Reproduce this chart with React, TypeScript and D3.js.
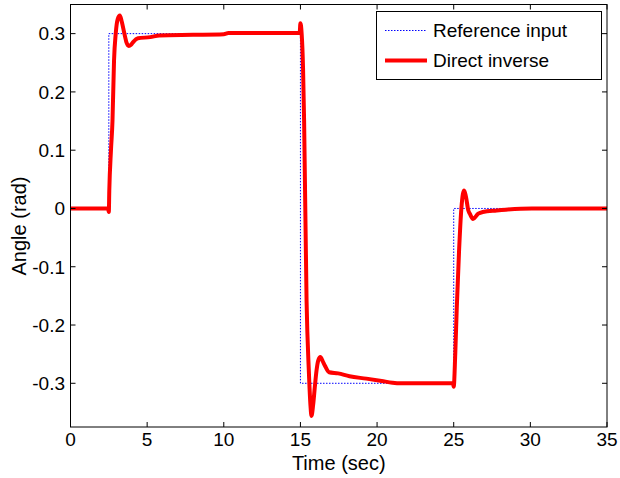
import * as d3 from "d3";

// reference input: step changes (value holds until next time)
const refTime = [0, 2.5, 15, 25, 35];
const refValue = [0, 0.3, -0.3, 0, 0];

// direct inverse response
const respTime = [
  0, 2.45, 2.5, 2.53, 2.64, 2.74, 2.84, 2.95, 3.08, 3.22, 3.35, 3.5, 3.65, 3.8, 3.95, 4.1,
  4.4, 5.2, 5.8, 8, 10, 10.3, 14.95, 15.0, 15.08, 15.17, 15.24, 15.4, 15.55, 15.66, 15.72,
  15.83, 15.94, 16.05, 16.16, 16.3, 16.45, 16.6, 16.87, 17.46, 18.2, 19.3, 20.3, 21, 21.5,
  24.95, 25.0, 25.1, 25.2, 25.35, 25.5, 25.6, 25.68, 25.8, 25.95, 26.05, 26.26, 26.6, 26.9,
  27.8, 28.4, 30.1, 35,
];
const respValue = [
  0, 0, -0.006, 0.03, 0.1, 0.151, 0.254, 0.3, 0.325, 0.331, 0.32, 0.302, 0.285, 0.279, 0.281,
  0.286, 0.292, 0.294, 0.297, 0.298, 0.299, 0.301, 0.301, 0.318, 0.3, 0.242, 0.151, -0.158,
  -0.28, -0.34, -0.356, -0.337, -0.306, -0.278, -0.261, -0.255, -0.262, -0.27, -0.281, -0.283,
  -0.288, -0.292, -0.296, -0.299, -0.3, -0.3, -0.306, -0.25, -0.17, -0.072, 0.0, 0.025, 0.031,
  0.02, -0.003, -0.009, -0.018, -0.009, -0.006, -0.0034, -0.002, 0, 0,
];

const xTicks = [0, 5, 10, 15, 20, 25, 30, 35];
const yTicks = [-0.3, -0.2, -0.1, 0, 0.1, 0.2, 0.3];
const legendLabels = ["Reference input", "Direct inverse"];

const W = 620;
const H = 478;
const left = 70.5;
const right = 607;
const top = 4.5;
const bottom = 427;
const font = "'Liberation Sans', Arial, sans-serif";

export default function App() {
  const x = d3.scaleLinear().domain([0, 35]).range([left, right]);
  const y = d3.scaleLinear().domain([-0.375, 0.35]).range([bottom, top]);

  const refPts: [number, number][] = refTime.map((t, i) => [t, refValue[i]]);
  const respPts: [number, number][] = respTime.map((t, i) => [t, respValue[i]]);

  const refLine = d3
    .line<[number, number]>()
    .x((d) => x(d[0]))
    .y((d) => y(d[1]))
    .curve(d3.curveStepAfter);
  const respLine = d3
    .line<[number, number]>()
    .x((d) => x(d[0]))
    .y((d) => y(d[1]))
    .curve(d3.curveMonotoneX);

  const tick = 5;
  // MATLAB-style labels with a plain hyphen for negatives
  const fmt = (v: number) => (v === 0 ? "0" : d3.format(".1f")(v).replace("\u2212", "-"));

  return (
    <div style={{ position: "absolute", left: 0, top: 0 }}>
      <svg width={W} height={H} style={{ display: "block", background: "#fff" }}>
        <rect x={0} y={0} width={W} height={H} fill="#fff" />
        <defs>
          <clipPath id="plot">
            <rect x={left} y={top} width={right - left} height={bottom - top} />
          </clipPath>
        </defs>

        <g clipPath="url(#plot)">
          <path
            d={refLine(refPts) || ""}
            fill="none"
            stroke="#0000ff"
            strokeWidth={1}
            strokeDasharray="1.5,1.5"
          />
          <path
            d={respLine(respPts) || ""}
            fill="none"
            stroke="#ff0000"
            strokeWidth={4}
            strokeLinejoin="round"
            strokeLinecap="round"
          />
        </g>

        {/* box */}
        <rect
          x={left}
          y={top}
          width={right - left}
          height={bottom - top}
          fill="none"
          stroke="#000"
          strokeWidth={1}
        />

        {xTicks.map((t) => (
          <g key={"x" + t}>
            <line x1={x(t)} x2={x(t)} y1={bottom} y2={bottom - tick} stroke="#000" />
            <line x1={x(t)} x2={x(t)} y1={top} y2={top + tick} stroke="#000" />
            <text
              x={x(t)}
              y={445.5}
              textAnchor="middle"
              fontFamily={font}
              fontSize={19}
              fill="#000"
            >
              {t}
            </text>
          </g>
        ))}

        {yTicks.map((v) => (
          <g key={"y" + v}>
            <line x1={left} x2={left + tick} y1={y(v)} y2={y(v)} stroke="#000" />
            <line x1={right} x2={right - tick} y1={y(v)} y2={y(v)} stroke="#000" />
            <text
              x={65}
              y={y(v) + 6.8}
              textAnchor="end"
              fontFamily={font}
              fontSize={19}
              fill="#000"
            >
              {fmt(v)}
            </text>
          </g>
        ))}

        <text
          x={(left + right) / 2}
          y={469.5}
          textAnchor="middle"
          fontFamily={font}
          fontSize={20}
          fill="#000"
        >
          Time (sec)
        </text>
        <text
          transform="translate(25.5,226) rotate(-90)"
          textAnchor="middle"
          fontFamily={font}
          fontSize={20}
          fill="#000"
        >
          Angle (rad)
        </text>

        {/* legend */}
        <g>
          <rect x={376.5} y={11.5} width={225} height={68} fill="#fff" stroke="#000" />
          <line
            x1={385}
            x2={427}
            y1={30.5}
            y2={30.5}
            stroke="#0000ff"
            strokeWidth={1}
            strokeDasharray="1.5,1.5"
          />
          <line x1={385} x2={427} y1={60.5} y2={60.5} stroke="#ff0000" strokeWidth={4} />
          {legendLabels.map((l, i) => (
            <text
              key={l}
              x={433}
              y={30.5 + i * 30 + 6.8}
              fontFamily={font}
              fontSize={19}
              fill="#000"
            >
              {l}
            </text>
          ))}
        </g>
      </svg>
    </div>
  );
}
